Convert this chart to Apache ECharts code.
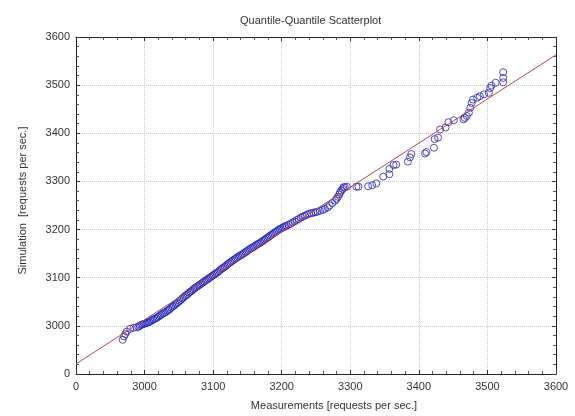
<!DOCTYPE html>
<html>
<head>
<meta charset="utf-8">
<script src="https://cdn.jsdelivr.net/npm/echarts@6/dist/echarts.min.js"></script>
<style>html,body{margin:0;padding:0;background:#fff}#c{width:575px;height:416px}</style>
</head>
<body>
<div id="c"></div>
<script>
// Quantiles
var measX = [2968,2970,2972,2974,2979,2984,2988,2991,2993,2995,2997,2999,3001,3003,3005,3007,3009,3011,3013,3015,3017,3019,3021,3023,3025,3027,3029,3031,3033,3035,3037,3039,3041,3043,3045,3047,3049,3051,3053,3055,3057,3059,3061,3063,3065,3067,3069,3071,3073,3075,3077,3079,3081,3083,3085,3087,3089,3091,3093,3095,3097,3099,3101,3103,3105,3107,3109,3111,3113,3115,3117,3119,3121,3123,3125,3127,3129,3131,3133,3135,3137,3139,3141,3143,3145,3147,3149,3151,3153,3155,3157,3159,3161,3163,3165,3167,3169,3171,3173,3175,3177,3179,3181,3183,3185,3187,3189,3191,3193,3195,3197,3199,3201,3203,3205,3207,3210,3213,3216,3219,3222,3225,3228,3231,3234,3237,3240,3243,3246,3249,3252,3256,3260,3263,3267,3270,3274,3278,3280,3282,3284,3285,3287,3289,3290,3292,3295,3309,3312,3326,3332,3338,3348,3357,3357,3363,3367,3384,3387,3389,3409,3411,3422,3423,3428,3431,3439,3443,3451,3465,3467,3470,3473,3475,3477,3479,3485,3489,3495,3502,3504,3506,3512,3523,3523,3523];
var simY  = [2971,2978,2983,2988,2994,2996,2997,2998,3000,3002,3003,3004,3005,3006,3007,3008,3010,3012,3013,3015,3016,3018,3020,3022,3024,3026,3027,3029,3031,3033,3035,3038,3040,3042,3045,3047,3049,3052,3054,3057,3059,3062,3064,3066,3069,3071,3073,3076,3078,3080,3082,3084,3086,3088,3090,3092,3094,3096,3098,3100,3102,3104,3106,3108,3110,3112,3114,3117,3119,3121,3123,3125,3128,3130,3132,3134,3136,3138,3140,3142,3144,3146,3147,3149,3151,3153,3155,3157,3159,3161,3162,3164,3166,3168,3170,3171,3173,3175,3177,3179,3181,3183,3185,3187,3189,3191,3193,3195,3197,3199,3201,3202,3204,3205,3207,3208,3210,3212,3215,3217,3220,3222,3225,3227,3229,3231,3233,3234,3235,3236,3237,3239,3241,3243,3246,3250,3255,3260,3264,3268,3273,3277,3281,3284,3288,3288,3289,3289,3289,3290,3292,3296,3310,3315,3326,3334,3335,3341,3350,3357,3358,3361,3370,3388,3391,3408,3412,3423,3427,3429,3432,3436,3443,3453,3463,3470,3474,3477,3481,3484,3494,3499,3505,3506,3515,3527];
var fitX = [2900, 3600];
var fitY = [2921, 3563];
var xTicks = ['0','3000','3100','3200','3300','3400','3500','3600'];
var yTicks = ['0','3000','3100','3200','3300','3400','3500','3600'];

var pts = measX.map(function(x,i){return [x, simY[i]];});
var fit = fitX.map(function(x,i){return [x, fitY[i]];});
var FONT = 'Liberation Sans, Arial, sans-serif';
var chart = echarts.init(document.getElementById('c'), null, {renderer:'canvas'});
function lab(arr){return function(v){return arr[Math.round((v-2900)/100)];};}
var tickStyle = {show:true, inside:true, length:4, lineStyle:{color:'#333'}};
var minor = {show:true, splitNumber:5, length:3, lineStyle:{color:'#555'}};
var line = {show:true, onZero:false, lineStyle:{color:'#222', width:1}};
chart.setOption({
  animation:false,
  backgroundColor:'#fff',
  title:{text:'Quantile-Quantile Scatterplot', left:235, top:10,
    textStyle:{fontSize:11, fontWeight:'normal', color:'#333', fontFamily:FONT}},
  grid:{left:76, right:19, top:37, bottom:40},
  xAxis:[{type:'value', min:2900, max:3600, interval:100, position:'bottom',
    name:'Measurements [requests per sec.]', nameLocation:'middle', nameGap:26,
    nameTextStyle:{fontSize:11, color:'#333', fontFamily:FONT, padding:[0,0,0,36]},
    axisLine:line, axisTick:tickStyle, minorTick:minor,
    axisLabel:{formatter:lab(xTicks), fontSize:11, color:'#333', margin:7, fontFamily:FONT},
    splitLine:{show:true, lineStyle:{type:'dotted', color:'#c8c8c8'}}},
   {type:'value', min:2900, max:3600, interval:100, position:'top',
    axisLine:line, axisTick:tickStyle, minorTick:minor, axisLabel:{show:false}, splitLine:{show:false}}],
  yAxis:[{type:'value', min:2900, max:3600, interval:100, position:'left',
    name:'Simulation  [requests per sec.]', nameLocation:'middle', nameGap:48,
    nameTextStyle:{fontSize:11, color:'#333', fontFamily:FONT, padding:[0,0,0,10]},
    axisLine:line, axisTick:tickStyle, minorTick:minor,
    axisLabel:{formatter:lab(yTicks), fontSize:11, color:'#333', margin:6, fontFamily:FONT},
    splitLine:{show:true, lineStyle:{type:'dotted', color:'#c8c8c8'}}},
   {type:'value', min:2900, max:3600, interval:100, position:'right',
    axisLine:line, axisTick:tickStyle, minorTick:minor, axisLabel:{show:false}, splitLine:{show:false}}],
  series:[
    {type:'scatter', data:pts, symbol:'circle', symbolSize:7,
      itemStyle:{color:'rgba(255,255,255,0)', borderColor:'#2424b8', borderWidth:1}, z:2},
    {type:'line', data:fit, showSymbol:false, symbol:'none',
      lineStyle:{color:'#c04848', width:1}, z:3}
  ]
});
</script>
</body>
</html>
